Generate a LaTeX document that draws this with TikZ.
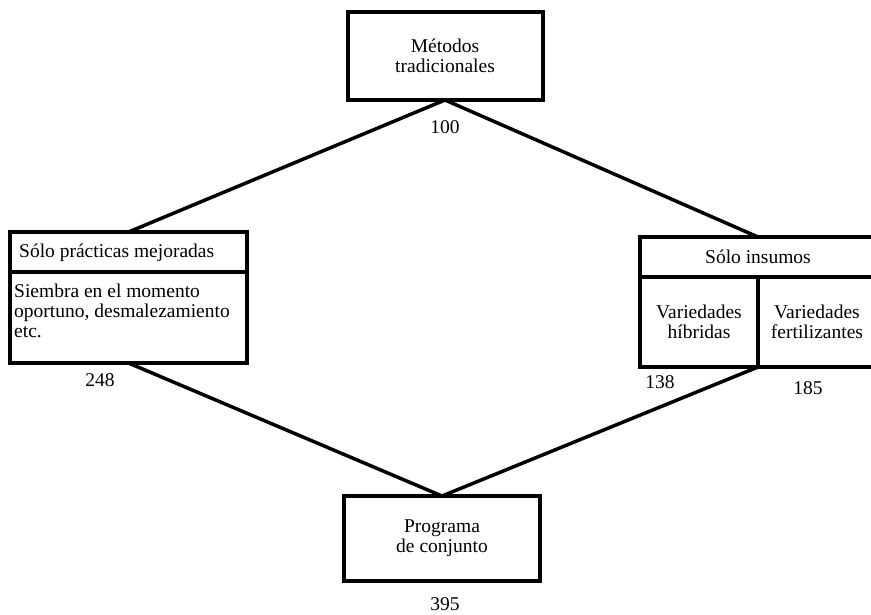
\documentclass[tikz,border=0pt]{standalone}
\usepackage{fontspec}
\setmainfont{Liberation Serif}
\usetikzlibrary{positioning}
\begin{document}
\begin{tikzpicture}[x=1pt, y=-1pt,
    cell/.style={draw, line width=4pt, outer sep=0pt, inner sep=0pt, align=center},
    link/.style={line width=3.5pt},
    txt/.style={font=\fontsize{19.5}{20}\selectfont}]
    \clip (0,0) rectangle (871,614);
    \fill[white] (0,0) rectangle (871,614);
    % boxes
    \node[cell, txt, minimum width=195pt, minimum height=88pt] (trad) at (445,56) {Métodos\\tradicionales};
    \node[cell, minimum width=237pt, minimum height=40pt] (mejh) at (128.5,252) {};
    \node[cell, minimum width=237pt, minimum height=91pt, anchor=north] (mejb) at (mejh.south) {};
    \node[cell, txt, minimum width=236pt, minimum height=40pt] (insh) at (758,257) {Sólo insumos};
    \node[cell, txt, minimum width=118pt, minimum height=90pt] (hib) at (699,322) {Variedades\\híbridas};
    \node[cell, txt, minimum width=118pt, minimum height=90pt] (fert) at (817,322) {Variedades\\fertilizantes};
    \node[cell, txt, minimum width=196pt, minimum height=85pt] (conj) at (442,538.5) {Programa\\de conjunto};
    % texts of the left box
    \node[txt, anchor=west, inner sep=0pt] (mejt) at (19,253) {Sólo prácticas mejoradas};
    \node[txt, anchor=north west, align=left, inner sep=0pt] (sieb) at (14,284) {Siembra en el momento\\oportuno, desmalezamiento\\etc.};
    % connectors
    \draw[link] (trad.south) -- (mejh.north);
    \draw[link] (trad.south) -- (insh.north -| hib.east);
    \draw[link] (mejb.south) -- (conj.north);
    \draw[link] (hib.south east) -- (conj.north);
    % values
    \node[txt] (v100) at (445,127) {100};
    \node[txt] (v248) at (100,380) {248};
    \node[txt] (v138) at (660,382) {138};
    \node[txt] (v185) at (808,388) {185};
    \node[txt] (v395) at (445,604) {395};
\end{tikzpicture}
\end{document}
